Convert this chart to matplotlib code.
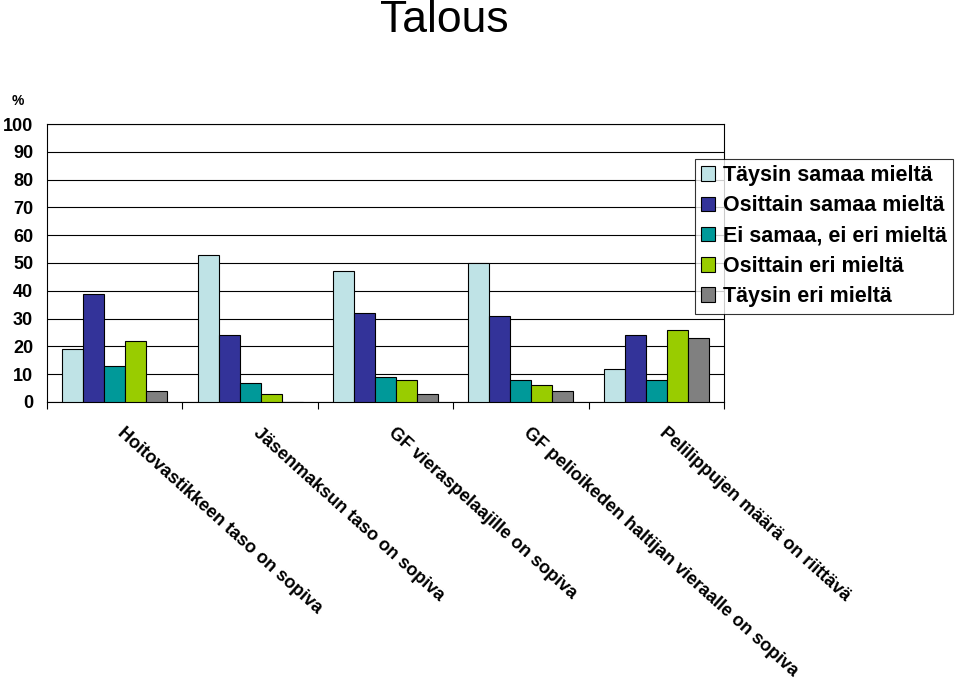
import matplotlib
matplotlib.use("Agg")
import matplotlib.pyplot as plt
import numpy as np

categories = ["Hoitovastikkeen taso on sopiva", "Jäsenmaksun taso on sopiva",
              "GF vieraspelaajille on sopiva", "GF pelioikeden haltijan vieraalle on sopiva",
              "Pelilippujen määrä on riittävä"]
series_names = ["Täysin samaa mieltä", "Osittain samaa mieltä", "Ei samaa, ei eri mieltä",
                "Osittain eri mieltä", "Täysin eri mieltä"]
taysin_samaa = [19, 53, 47, 50, 12]
osittain_samaa = [39, 24, 32, 31, 24]
ei_samaa_ei_eri = [13, 7, 9, 8, 8]
osittain_eri = [22, 3, 8, 6, 26]
taysin_eri = [4, 0, 3, 4, 23]
yticks = [0, 10, 20, 30, 40, 50, 60, 70, 80, 90, 100]

colors = ["#BFE3E6", "#333399", "#009999", "#99CC00", "#808080"]
series = [taysin_samaa, osittain_samaa, ei_samaa_ei_eri, osittain_eri, taysin_eri]

plt.rcParams['font.family'] = ['Liberation Sans', 'DejaVu Sans']

fig = plt.figure(figsize=(9.59, 6.84), dpi=100)
ax = fig.add_axes([0.049, 0.4123, 0.706, 0.4064])

n = len(categories)
x = np.arange(n)
w = 0.155
for i, (vals, c, name) in enumerate(zip(series, colors, series_names)):
    ax.bar(x + (i - 2) * w, vals, w, color=c, edgecolor="black", linewidth=0.8,
           label=name, zorder=3)

ax.set_xlim(-0.5, n - 0.5)
ax.set_ylim(0, 100)
ax.set_yticks(yticks)
ax.set_yticklabels([str(t) for t in yticks], fontsize=13, fontweight="bold")
ax.yaxis.grid(True, color="black", linewidth=0.8, zorder=0)
ax.tick_params(axis="y", length=0, pad=10)
ax.set_xticks(np.arange(n + 1) - 0.5)
ax.set_xticklabels([])
ax.tick_params(axis="x", length=5, direction="out", color="black")
for s in ax.spines.values():
    s.set_color("black")
    s.set_linewidth(0.8)

for xi, lab in zip(x, categories):
    ax.text(xi + 0.08, -8, lab, rotation=-42, ha="left", va="top",
            rotation_mode="anchor", fontsize=13, fontweight="bold",
            transform=ax.transData, clip_on=False)

fig.text(0.463, 0.97, "Talous", ha="center", va="center", fontsize=32)
fig.text(0.012, 0.853, "%", ha="left", va="center", fontsize=10, fontweight="bold")

leg = ax.legend(loc="upper left", bbox_to_anchor=(0.957, 0.875),
                prop={"weight": "bold", "size": 15.5}, frameon=True, fancybox=False,
                edgecolor="black", handlelength=0.65, handleheight=0.65,
                handletextpad=0.35, borderaxespad=0, labelspacing=0.43, borderpad=0.3)
leg.get_frame().set_linewidth(0.8)

fig.savefig("out.png", dpi=100)
